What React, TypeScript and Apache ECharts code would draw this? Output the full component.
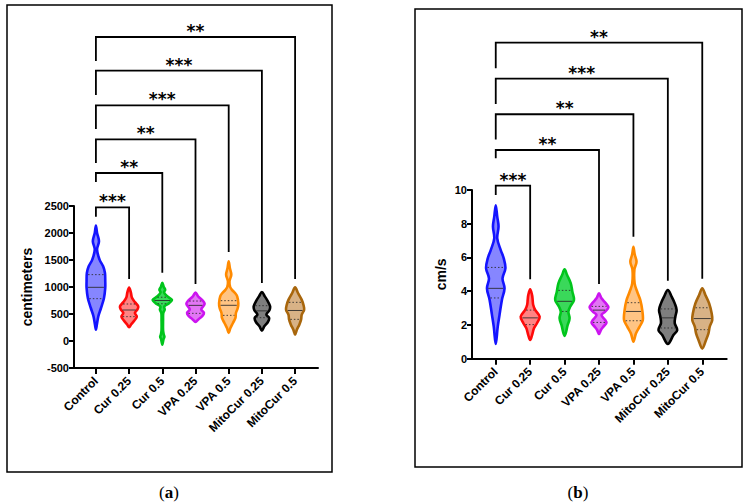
import React, { useEffect, useRef } from "react";
import * as echarts from "echarts";

const CATEGORIES = ["Control", "Cur 0.25", "Cur 0.5", "VPA 0.25", "VPA 0.5", "MitoCur 0.25", "MitoCur 0.5"];
const STROKES = ["#1414ff", "#ff0a0a", "#00c51c", "#cc14f0", "#ff8a00", "#000000", "#a8660c"];
const FILLS = ["#8686ff", "#ff8484", "#3ad85a", "#e276f4", "#ffc484", "#7e7e7e", "#d8b286"];

// Panel (a): distance, centimeters. Profiles: [value, relative density]
const A_PROFILES: number[][][] = [
  [[2140, 0], [2000, 0.12], [1846, 0.32], [1692, 0.12], [1506, 0.38], [1383, 0.75], [1259, 0.94], [1105, 0.97], [982, 0.97], [797, 0.84], [611, 0.53], [457, 0.25], [303, 0.1], [210, 0]],
  [[990, 0], [900, 0.18], [800, 0.3], [720, 0.6], [640, 0.95], [580, 0.85], [520, 0.6], [450, 0.8], [380, 0.55], [310, 0.22], [255, 0]],
  [[1080, 0], [1000, 0.15], [950, 0.3], [900, 0.18], [830, 0.5], [760, 1.0], [700, 0.7], [640, 0.2], [580, 0.25], [520, 0.1], [400, 0.08], [200, 0.08], [120, 0.15], [80, 0.22], [30, 0.12], [-70, 0]],
  [[895, 0], [820, 0.3], [750, 0.75], [690, 0.95], [620, 0.7], [580, 0.6], [520, 0.88], [460, 0.7], [400, 0.3], [355, 0]],
  [[1476, 0], [1350, 0.12], [1229, 0.27], [1105, 0.08], [1000, 0.15], [951, 0.32], [880, 0.7], [827, 0.88], [704, 1.0], [611, 0.94], [519, 0.75], [426, 0.7], [334, 0.44], [241, 0.18], [150, 0]],
  [[908, 0], [827, 0.3], [735, 0.62], [642, 0.85], [570, 0.78], [488, 0.47], [426, 0.75], [352, 0.62], [272, 0.25], [192, 0]],
  [[994, 0], [889, 0.3], [766, 0.68], [661, 0.88], [580, 0.94], [488, 0.69], [395, 0.62], [303, 0.44], [210, 0.18], [118, 0]],
];
const A_MEDIAN = [994, 574, 750, 660, 661, 558, 565];
const A_Q3 = [1229, 685, 810, 740, 747, 654, 716];
const A_Q1 = [784, 451, 690, 512, 475, 432, 401];

const A_BRACKET_TARGET = [1, 2, 3, 4, 5, 6];
const A_BRACKET_TOP = [2476, 3111, 3735, 4365, 5006, 5630];
const A_BRACKET_LEFT_END = [2302, 2944, 3296, 3926, 4556, 5185];
const A_BRACKET_RIGHT_END = [1148, 1265, 1056, 1648, 1074, 1148];
const A_STARS = ["***", "**", "**", "***", "***", "**"];
const A_Y_TICKS = { min: -500, max: 2500, interval: 500 };

// Panel (b): speed, cm/s
const B_PROFILES: number[][][] = [
  [[9.1, 0], [8.42, 0.15], [7.83, 0.28], [7.13, 0.15], [6.44, 0.5], [5.95, 0.8], [5.36, 0.97], [4.76, 0.68], [4.17, 0.88], [3.5, 0.62], [2.6, 0.38], [1.9, 0.2], [0.87, 0]],
  [[4.11, 0], [3.77, 0.19], [3.48, 0.25], [3.2, 0.3], [2.9, 0.5], [2.49, 0.95], [2.1, 0.68], [1.8, 0.38], [1.4, 0.19], [1.11, 0]],
  [[5.3, 0], [4.96, 0.25], [4.47, 0.62], [3.97, 0.78], [3.48, 0.94], [3.08, 0.56], [2.79, 0.38], [2.39, 0.5], [2.0, 0.31], [1.35, 0]],
  [[3.87, 0], [3.58, 0.25], [3.28, 0.69], [3.04, 0.94], [2.79, 0.62], [2.59, 0.25], [2.29, 0.62], [2.13, 0.75], [1.9, 0.44], [1.7, 0.19], [1.46, 0]],
  [[6.64, 0], [6.2, 0.12], [5.75, 0.31], [5.3, 0.1], [4.47, 0.12], [3.97, 0.38], [3.48, 0.69], [2.89, 0.88], [2.29, 0.94], [1.9, 0.62], [1.5, 0.25], [1.01, 0]],
  [[4.07, 0], [3.68, 0.38], [3.28, 0.69], [2.89, 0.88], [2.49, 0.75], [2.1, 0.69], [1.7, 0.94], [1.4, 0.56], [0.87, 0]],
  [[4.17, 0], [3.78, 0.31], [3.28, 0.69], [2.69, 0.94], [2.29, 1.0], [1.9, 0.75], [1.5, 0.62], [1.11, 0.38], [0.6, 0]],
];
const B_MEDIAN = [4.17, 2.42, 3.4, 2.88, 2.8, 2.42, 2.38];
const B_Q3 = [5.41, 2.88, 4.05, 3.1, 3.32, 2.95, 3.02];
const B_Q1 = [3.6, 2.02, 2.8, 2.15, 2.25, 1.82, 1.72];

const B_BRACKET_TARGET = [1, 3, 4, 5, 6];
const B_BRACKET_TOP = [10.26, 12.37, 14.49, 16.6, 18.73];
const B_BRACKET_LEFT_END = [9.7, 11.88, 13.0, 15.1, 17.21];
const B_BRACKET_RIGHT_END = [4.71, 4.43, 7.23, 4.62, 4.74];
const B_STARS = ["***", "**", "**", "***", "**"];
const B_Y_TICKS = { min: 0, max: 10, interval: 2 };

const CAT_INDEX = CATEGORIES.map((_, i) => i);
const FONT = "'Liberation Sans', Arial, Helvetica, sans-serif";

function hwAt(prof: number[][], v: number): number {
  for (let k = 0; k < prof.length - 1; k++) {
    const [v0, d0] = prof[k];
    const [v1, d1] = prof[k + 1];
    if ((v <= v0 && v >= v1) || (v >= v0 && v <= v1)) {
      const t = v1 === v0 ? 0 : (v - v0) / (v1 - v0);
      return d0 + t * (d1 - d0);
    }
  }
  return 0;
}

function violinRenderer(profiles: number[][][], med: number[], q1: number[], q3: number[]) {
  return (params: any, api: any) => {
    const i = api.value(0);
    const prof = profiles[i];
    const unit = api.size([1, 0])[0];
    const scale = unit * 0.29;
    const cx = api.coord([i, 0])[0];
    const right = prof.map(([v, d]) => [cx + d * scale, api.coord([i, v])[1]]);
    const left = prof.slice(1, -1).reverse().map(([v, d]) => [cx - d * scale, api.coord([i, v])[1]]);
    const children: any[] = [
      {
        type: "polygon",
        shape: { points: right.concat(left), smooth: 0.35 },
        style: { fill: FILLS[i], stroke: STROKES[i], lineWidth: 2.6, lineJoin: "round" },
      },
    ];
    const addLine = (v: number, dashed: boolean) => {
      const hw = Math.max(0, hwAt(prof, v) * scale - 1.3);
      const y = api.coord([i, v])[1];
      children.push({
        type: "line",
        shape: { x1: cx - hw, y1: y, x2: cx + hw, y2: y },
        style: { stroke: "rgba(40,40,40,0.85)", lineWidth: 1, lineDash: dashed ? [1.5, 2] : null },
      });
    };
    addLine(med[i], false);
    addLine(q1[i], true);
    addLine(q3[i], true);
    return { type: "group", children };
  };
}

function bracketRenderer(target: number[], top: number[], leftEnd: number[], rightEnd: number[], stars: string[]) {
  return (params: any, api: any) => {
    const k = params.dataIndex;
    const t = target[k];
    const [x0, yl] = api.coord([0, leftEnd[k]]);
    const [, yt] = api.coord([0, top[k]]);
    const [x1, yr] = api.coord([t, rightEnd[k]]);
    const n = stars[k].length;
    const mid = (x0 + x1) / 2;
    const starChildren = [];
    for (let s = 0; s < n; s++) {
      starChildren.push({
        type: "text",
        x: mid + (s - (n - 1) / 2) * 9,
        y: yt - 6,
        style: {
          text: "*",
          fill: "#000",
          font: "bold 17px 'DejaVu Sans', sans-serif",
          align: "center",
          verticalAlign: "middle",
        },
      });
    }
    return {
      type: "group",
      children: [
        {
          type: "polyline",
          shape: { points: [[x0, yl], [x0, yt], [x1, yt], [x1, yr]] },
          style: { stroke: "#000", lineWidth: 1.8, fill: null },
        },
        ...starChildren,
      ],
    };
  };
}

function xAxisFor(gridIndex: number, min: number, max: number) {
  return {
    type: "value",
    gridIndex,
    min,
    max,
    splitLine: { show: false },
    axisLine: { show: true, onZero: false, lineStyle: { color: "#000", width: 2 } },
    axisTick: { show: true, customValues: CAT_INDEX, length: 6, lineStyle: { color: "#000", width: 2 } },
    axisLabel: {
      customValues: CAT_INDEX,
      formatter: (v: number) => CATEGORIES[Math.round(v)],
      rotate: 45,
      margin: 11,
      color: "#000",
      fontSize: 12,
      fontWeight: "bold",
      fontFamily: FONT,
    },
  };
}

function yAxisFor(gridIndex: number, ticks: any, name: string, nameGap: number) {
  return {
    type: "value",
    gridIndex,
    min: ticks.min,
    max: ticks.max,
    interval: ticks.interval,
    name,
    nameLocation: "middle",
    nameGap,
    nameTextStyle: { color: "#000", fontSize: 14, fontWeight: "bold", fontFamily: FONT },
    splitLine: { show: false },
    axisLine: { show: true, onZero: false, lineStyle: { color: "#000", width: 2 } },
    axisTick: { show: true, length: 5, lineStyle: { color: "#000", width: 2 } },
    axisLabel: {
      color: "#000",
      fontSize: 11,
      fontWeight: "bold",
      fontFamily: FONT,
      margin: 5,
      formatter: (v: number) => String(v),
    },
  };
}

export default function App() {
  const ref = useRef<HTMLDivElement>(null);
  useEffect(() => {
    if (!ref.current) return;
    const chart = echarts.init(ref.current, null, { renderer: "svg" });
    chart.setOption({
      animation: false,
      backgroundColor: "#fff",
      grid: [
        { left: 74, top: 206, width: 244, height: 162, outerBoundsMode: "none" },
        { left: 472, top: 190, width: 254.7, height: 168.7, outerBoundsMode: "none" },
      ],
      xAxis: [xAxisFor(0, -0.66, 6.69), xAxisFor(1, -0.69, 6.71)],
      yAxis: [yAxisFor(0, A_Y_TICKS, "centimeters", 40), yAxisFor(1, B_Y_TICKS, "cm/s", 24)],
      series: [
        {
          type: "custom",
          xAxisIndex: 0,
          yAxisIndex: 0,
          clip: false,
          data: CAT_INDEX.map((i) => [i]),
          renderItem: violinRenderer(A_PROFILES, A_MEDIAN, A_Q1, A_Q3),
        },
        {
          type: "custom",
          xAxisIndex: 1,
          yAxisIndex: 1,
          clip: false,
          data: CAT_INDEX.map((i) => [i]),
          renderItem: violinRenderer(B_PROFILES, B_MEDIAN, B_Q1, B_Q3),
        },
        {
          type: "custom",
          xAxisIndex: 0,
          yAxisIndex: 0,
          clip: false,
          data: A_BRACKET_TARGET.map((t, k) => [t, A_BRACKET_TOP[k]]),
          renderItem: bracketRenderer(A_BRACKET_TARGET, A_BRACKET_TOP, A_BRACKET_LEFT_END, A_BRACKET_RIGHT_END, A_STARS),
        },
        {
          type: "custom",
          xAxisIndex: 1,
          yAxisIndex: 1,
          clip: false,
          data: B_BRACKET_TARGET.map((t, k) => [t, B_BRACKET_TOP[k]]),
          renderItem: bracketRenderer(B_BRACKET_TARGET, B_BRACKET_TOP, B_BRACKET_LEFT_END, B_BRACKET_RIGHT_END, B_STARS),
        },
      ],
      graphic: [
        { type: "rect", shape: { x: 7, y: 5, width: 325, height: 467 }, style: { fill: null, stroke: "#000", lineWidth: 1.5 } },
        { type: "rect", shape: { x: 415, y: 9, width: 327, height: 458 }, style: { fill: null, stroke: "#000", lineWidth: 1.5 } },
        {
          type: "text",
          x: 169,
          y: 492,
          style: {
            text: "({b|a})",
            align: "center",
            verticalAlign: "middle",
            font: "17px 'Liberation Serif', 'DejaVu Serif', serif",
            fill: "#000",
            rich: { b: { fontWeight: "bold", fontSize: 17, fontFamily: "'Liberation Serif', serif" } },
          },
        },
        {
          type: "text",
          x: 578,
          y: 492,
          style: {
            text: "({b|b})",
            align: "center",
            verticalAlign: "middle",
            font: "17px 'Liberation Serif', 'DejaVu Serif', serif",
            fill: "#000",
            rich: { b: { fontWeight: "bold", fontSize: 17, fontFamily: "'Liberation Serif', serif" } },
          },
        },
      ],
    });
    return () => chart.dispose();
  }, []);
  return <div ref={ref} style={{ position: "fixed", left: 0, top: 0, width: 747, height: 504 }} />;
}
